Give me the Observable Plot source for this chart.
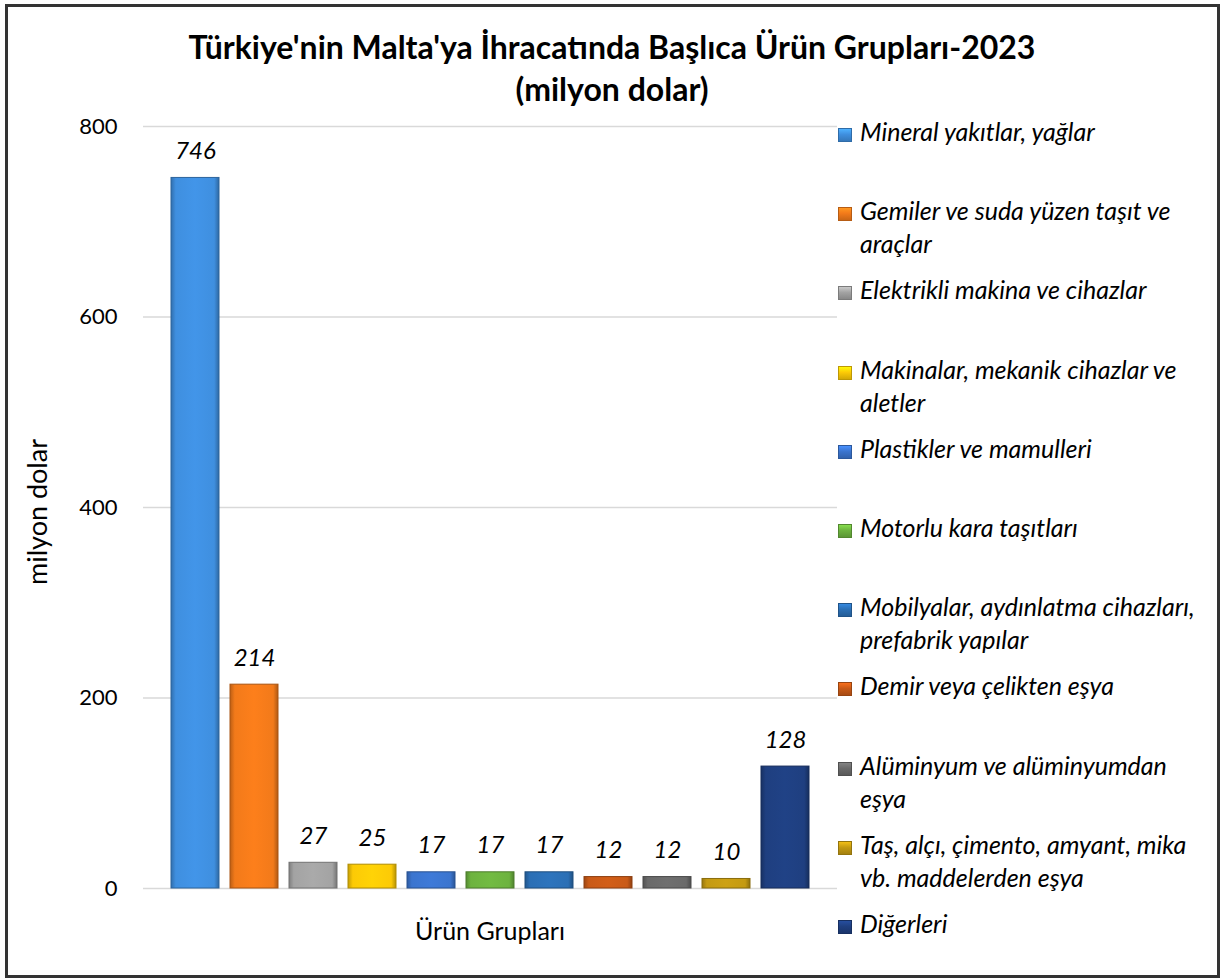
<!DOCTYPE html>
<html>
<head>
<meta charset="utf-8">
<script src="https://cdn.jsdelivr.net/npm/d3@7"></script>
<script src="https://cdn.jsdelivr.net/npm/@observablehq/plot@0.6"></script>
<style>
  body { margin: 0; background: #fff; }
  #wrap { position: relative; width: 1221px; height: 980px; overflow: hidden; font-family: Lato, "Open Sans", sans-serif; color: #000; }
  #frame { position: absolute; left: 5px; top: 4px; width: 1215px; height: 974px; box-sizing: border-box; border: 3px solid #333; }
  #chart { position: absolute; left: 0; top: 0; }
  .title { position: absolute; left: 0; width: 1224px; text-align: center; font-weight: bold; font-size: 32px; line-height: 1; white-space: nowrap; }
  #ylabel { position: absolute; left: 36px; top: 512px; transform: translate(-50%, -50%) rotate(-90deg); font-size: 27px; white-space: nowrap; }
  #xlabel { position: absolute; left: 490px; top: 930px; transform: translate(-50%, -50%); font-size: 25px; white-space: nowrap; }
  .leg { position: absolute; left: 838px; font-style: italic; font-size: 25px; line-height: 33px; white-space: nowrap; }
  .leg .sw { position: absolute; left: 0; top: 13px; width: 14px; height: 14px; box-sizing: border-box; }
  .leg .tx { margin-left: 22px; display: block; }
</style>
</head>
<body>
<div id="wrap">
  <div id="frame"></div>
  <div id="chart"></div>
  <div class="title" style="top:31px">Türkiye'nin Malta'ya İhracatında Başlıca Ürün Grupları-2023</div>
  <div class="title" style="top:73px">(milyon dolar)</div>
  <div id="ylabel">milyon dolar</div>
  <div id="xlabel">Ürün Grupları</div>
  <div id="legend"></div>
</div>
<script>
const categories = [
  "Mineral yakıtlar, yağlar",
  "Gemiler ve suda yüzen taşıt ve araçlar",
  "Elektrikli makina ve cihazlar",
  "Makinalar, mekanik cihazlar ve aletler",
  "Plastikler ve mamulleri",
  "Motorlu kara taşıtları",
  "Mobilyalar, aydınlatma cihazları, prefabrik yapılar",
  "Demir veya çelikten eşya",
  "Alüminyum ve alüminyumdan eşya",
  "Taş, alçı, çimento, amyant, mika vb. maddelerden eşya",
  "Diğerleri"
];
const legendLines = [
  ["Mineral yakıtlar, yağlar"],
  ["Gemiler ve suda yüzen taşıt ve", "araçlar"],
  ["Elektrikli makina ve cihazlar"],
  ["Makinalar, mekanik cihazlar ve", "aletler"],
  ["Plastikler ve mamulleri"],
  ["Motorlu kara taşıtları"],
  ["Mobilyalar, aydınlatma cihazları,", "prefabrik yapılar"],
  ["Demir veya çelikten eşya"],
  ["Alüminyum ve alüminyumdan", "eşya"],
  ["Taş, alçı, çimento, amyant, mika", "vb. maddelerden eşya"],
  ["Diğerleri"]
];
const values = [746, 214, 27, 25, 17, 17, 17, 12, 12, 10, 128];
const colors = ["#3f8fdf", "#f27a1a", "#a3a3a3", "#fcca06", "#3b75cf", "#6db33f", "#2b6fb5", "#c95a17", "#6a6a6a", "#c49a12", "#1f3f80"];
const yTicks = [0, 200, 400, 600, 800];

const data = categories.map((name, i) => ({
  name, value: values[i], i,
  stroke: d3.color(colors[i]).darker(1).formatHex()
}));

const plot = Plot.plot({
  width: 850,
  height: 980,
  marginLeft: 143,
  marginRight: 13,
  marginTop: 126,
  marginBottom: 92,
  style: { fontFamily: "Lato, 'Open Sans', sans-serif", fontSize: "22px", color: "#000", background: "transparent", overflow: "visible" },
  x: { domain: categories, paddingInner: 0.18, paddingOuter: 0.39, axis: null },
  y: { domain: [0, 800], ticks: yTicks, tickSize: 0, tickPadding: 26, label: null, tickFormat: d => String(d) },
  color: { type: "identity" },
  marks: [
    Plot.ruleY(yTicks, { stroke: "#d9d9d9", strokeWidth: 1.5 }),
    Plot.barY(data, { x: "name", y: "value", fill: d => `url(#g${d.i})`, stroke: "stroke", strokeWidth: 1 }),
    Plot.text(data, { x: "name", y: "value", text: d => String(d.value), dy: -19, lineAnchor: "bottom", fontStyle: "italic", fontSize: 24, fill: "#000" })
  ]
});

// bevel-like gradients
const svg = d3.select(plot);
const defs = svg.insert("defs", ":first-child");
colors.forEach((c, i) => {
  const base = d3.color(c);
  const g = defs.append("linearGradient").attr("id", `g${i}`).attr("x1", 0).attr("x2", 1).attr("y1", 0).attr("y2", 0);
  [[0, base.darker(0.7)], [0.1, base], [0.5, base.brighter(0.12)], [0.9, base], [1, base.darker(0.9)]]
    .forEach(([o, col]) => g.append("stop").attr("offset", o).attr("stop-color", col.formatHex()));
});
document.getElementById("chart").appendChild(plot);

// legend
const leg = document.getElementById("legend");
legendLines.forEach((lines, i) => {
  const c = d3.color(colors[i]);
  const item = document.createElement("div");
  item.className = "leg";
  item.style.top = (142 + 79.2 * i - 27) + "px";
  const sw = document.createElement("span");
  sw.className = "sw";
  sw.style.background = `linear-gradient(180deg, ${c.brighter(0.6).formatHex()} 0%, ${c.formatHex()} 45%, ${c.darker(0.5).formatHex()} 100%)`;
  sw.style.border = `1px solid ${c.darker(0.8).formatHex()}`;
  item.appendChild(sw);
  lines.forEach(line => {
    const tx = document.createElement("span");
    tx.className = "tx";
    tx.textContent = line;
    item.appendChild(tx);
  });
  leg.appendChild(item);
});
</script>
</body>
</html>
